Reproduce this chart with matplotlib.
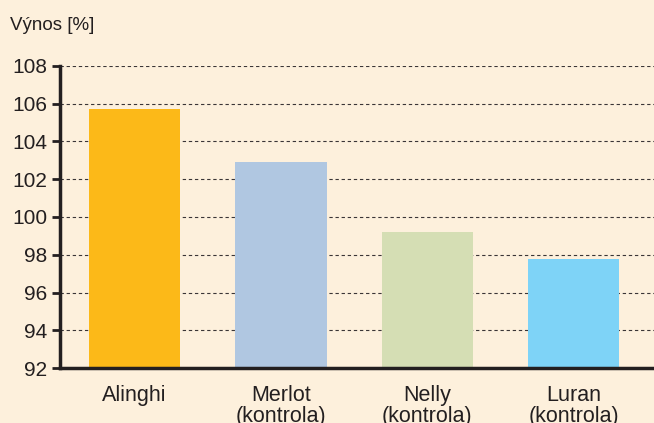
import matplotlib.pyplot as plt

odrody = ['Alinghi', 'Merlot\n(kontrola)', 'Nelly\n(kontrola)', 'Luran\n(kontrola)']
vynos = [105.7, 102.9, 99.2, 97.75]
farby = ['#FCB918', '#B0C7E1', '#D5DEB4', '#7ED3F7']
yticks = [92, 94, 96, 98, 100, 102, 104, 106, 108]

bg = '#FDF0DC'
ink = '#231F20'

plt.rcParams['font.family'] = ['Liberation Sans', 'DejaVu Sans']

fig = plt.figure(figsize=(6.54, 4.23), dpi=100, facecolor=bg)
ax = fig.add_axes([0.091, 0.130, 0.909, 0.714], facecolor=bg)

x = range(len(odrody))
ax.bar(x, vynos, width=0.623, bottom=0, color=farby, zorder=2)

ax.set_ylim(92, 108)
ax.set_xlim(-0.514, 3.55)
ax.set_yticks(yticks)
ax.set_xticks(list(x))
ax.set_xticklabels(odrody, fontsize=15.5, color=ink, linespacing=1.05)
ax.tick_params(axis='y', labelsize=15, colors=ink, length=6, width=2, direction='out', pad=3)
ax.tick_params(axis='x', length=0, pad=12)

ax.yaxis.grid(True, linestyle=(0, (3, 2.5)), color='#3a3536', linewidth=0.8, zorder=0)
ax.set_axisbelow(True)

for s in ['top', 'right']:
    ax.spines[s].set_visible(False)
for s in ['left', 'bottom']:
    ax.spines[s].set_linewidth(2.5)
    ax.spines[s].set_color(ink)
ax.spines['left'].set_zorder(3)

fig.text(0.015, 0.94, 'Výnos [%]', fontsize=13.5, color=ink, va='center', ha='left')

fig.savefig('out.png', dpi=100, facecolor=bg)
